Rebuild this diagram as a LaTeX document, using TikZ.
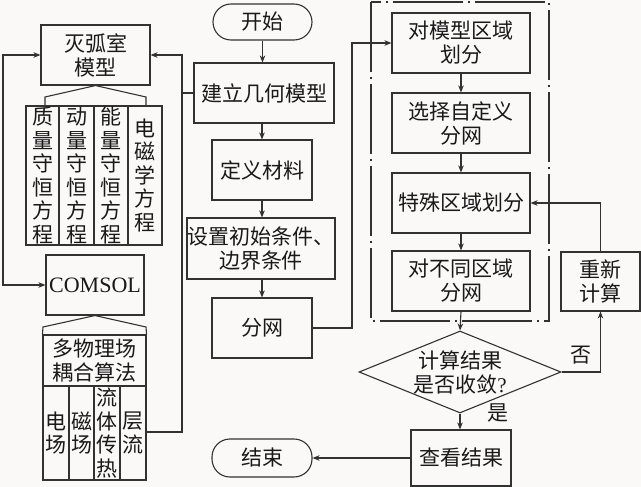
\documentclass[tikz,border=0pt]{standalone}
\usepackage{fontspec}
\setmainfont{Noto Sans CJK SC}
\newfontfamily\lat{Liberation Serif}
\usetikzlibrary{arrows.meta,shapes.geometric}
\definecolor{bg}{RGB}{251,248,248}
\definecolor{lc}{RGB}{50,50,50}
\definecolor{tx}{RGB}{25,25,25}
\begin{document}
\begin{tikzpicture}[x=1pt,y=-1pt,
  box/.style={draw=lc, line width=1.1pt, text=tx, inner sep=0pt, align=center,
    font=\fontsize{21}{24}\selectfont},
  col/.style={box, font=\fontsize{21}{23.5}\selectfont},
  term/.style={box, rounded corners=18pt},
  arr/.style={draw=lc, line width=1.1pt, -{Stealth[length=7pt,width=5.5pt]}},
  wire/.style={draw=lc, line width=1.1pt},
  lbl/.style={text=tx, font=\fontsize{21}{24}\selectfont, inner sep=0pt}]
\fill[bg] (0,0) rectangle (641,487);
\useasboundingbox (0,0) rectangle (641,487);

% ---- left column
\node[box, minimum width=109pt, minimum height=60pt] (mhs) at (95.5,55) {灭弧室\\模型};
\node[col, minimum width=33pt, minimum height=139pt] (e1) at (42.5,175.5) {质\\量\\守\\恒\\方\\程};
\node[col, minimum width=35pt, minimum height=139pt] (e2) at (76.5,175.5) {动\\量\\守\\恒\\方\\程};
\node[col, minimum width=34pt, minimum height=139pt] (e3) at (111,175.5) {能\\量\\守\\恒\\方\\程};
\node[col, minimum width=34pt, minimum height=139pt] (e4) at (145,175.5) {电\\磁\\学\\方\\程};
\coordinate (r1l) at (45,106);
\coordinate (r1r) at (146,106);
\draw[wire] (r1l) -- (45,97) -- (mhs.south) -- (146,97) -- (r1r);

\node[box, minimum width=98pt, minimum height=60pt, font=\lat\fontsize{22}{24}\selectfont] (comsol) at (95,285) {COMSOL};
\node[box, minimum width=103pt, minimum height=51pt] (dwl) at (94.5,360.5) {多物理场\\耦合算法};
\draw[wire] (dwl.north west) -- (43,327) -- (comsol.south) -- (146,327) -- (dwl.north east);
\node[col, minimum width=26pt, minimum height=94pt] (f1) at (56,433) {电\\场};
\node[col, minimum width=25pt, minimum height=94pt] (f2) at (81.5,433) {磁\\场};
\node[col, minimum width=26pt, minimum height=94pt] (f3) at (107,433) {流\\体\\传\\热};
\node[col, minimum width=26pt, minimum height=94pt] (f4) at (133,433) {层\\流};

\coordinate (lx) at (3,170);
\draw[wire, {Stealth[length=7pt,width=5.5pt]}-{Stealth[length=7pt,width=5.5pt]}] (mhs.west) -| (lx) |- (comsol.west);

% ---- middle column
\node[term, minimum width=99pt, minimum height=36pt] (start) at (262.5,22) {开始};
\node[box, minimum width=140pt, minimum height=60pt] (jl) at (264,93) {建立几何模型};
\node[box, minimum width=100pt, minimum height=60pt] (dy) at (262,170) {定义材料};
\node[box, minimum width=148pt, minimum height=61pt] (sz) at (261,248.5) {设置初始条件、\\边界条件};
\node[box, minimum width=100pt, minimum height=60pt] (fw) at (262,328) {分网};
\node[term, minimum width=100pt, minimum height=38pt] (end) at (262,458) {结束};

\draw[arr] (start.south) -- (start.south |- jl.north);
\draw[arr] (dy.north |- jl.south) -- (dy.north);
\draw[arr] (dy.south) -- (dy.south |- sz.north);
\draw[arr] (fw.north |- sz.south) -- (fw.north);

\coordinate (bus) at (182,432);
\draw[arr] (f4.east |- bus) -- (bus) -- (bus |- mhs.east) -- (mhs.east);
\draw[wire] (jl.west) -- (jl.west -| bus);

% ---- right column
\draw[draw=lc, line width=1.1pt, dash pattern=on 70pt off 5pt on 2pt off 5pt] (371,2) rectangle (549,321);
\node[box, minimum width=138pt, minimum height=60pt] (m1) at (461,43) {对模型区域\\划分};
\node[box, minimum width=138pt, minimum height=60pt] (m2) at (461,123) {选择自定义\\分网};
\node[box, minimum width=138pt, minimum height=60pt] (m3) at (461,203) {特殊区域划分};
\node[box, minimum width=138pt, minimum height=60pt] (m4) at (461,281) {对不同区域\\分网};
\node[box, diamond, aspect=2.46, minimum width=202pt, minimum height=82pt] (dia) at (460,372) {计算结果\\是否收敛{\lat ?}};
\node[box, minimum width=100pt, minimum height=56pt] (ck) at (461,458) {查看结果};
\node[box, minimum width=79pt, minimum height=59pt] (re) at (600.5,281.5) {重新\\计算};

\draw[arr] (m1) -- (m2);
\draw[arr] (m2) -- (m3);
\draw[arr] (m3) -- (m4);
\draw[arr] (m4.south) -- (dia.north);
\draw[arr] (dia.south) -- (dia.south |- ck.north);
\draw[arr] (ck.west) -- (end.east);
\coordinate (mx) at (352,328);
\draw[arr] (fw.east) -- (mx) |- (m1.west);
\draw[arr] (dia.east) -| (re.south);
\draw[arr] (re.north) |- (m3.east);

\node[lbl] (no) at (581,355) {否};
\node[lbl] (yes) at (498,413) {是};
\end{tikzpicture}
\end{document}
